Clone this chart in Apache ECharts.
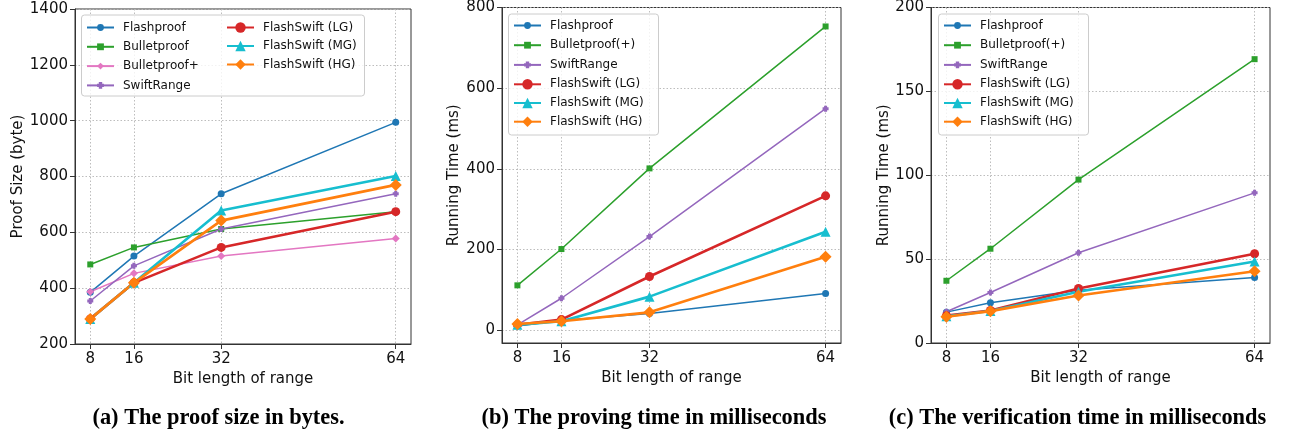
<!DOCTYPE html>
<html><head><meta charset="utf-8">
<script src="https://cdn.jsdelivr.net/npm/echarts@6/dist/echarts.min.js"></script>
<style>html,body{margin:0;padding:0;background:#fff}#c{width:1289px;height:435px}</style>
</head><body><div id="c"></div>
<script>
// ---- data ----
const bits = [8, 16, 32, 64];
const xTicks = [8, 16, 32, 64];
// (a) proof size (byte)
const sizeFlashproof = [385, 515, 738, 994];
const sizeBulletproof = [485, 546, 612, 674];
const sizeBulletproofPlus = [387, 453, 515, 578];
const sizeSwiftRange = [354, 480, 612, 738];
const sizeLG = [290, 419, 546, 674];
const sizeMG = [290, 419, 678, 802];
const sizeHG = [290, 419, 642, 770];
// (b) proving time (ms)
const proveFlashproof = [10, 24, 41, 91];
const proveBulletproof = [111, 201, 401, 753];
const proveSwiftRange = [13, 79, 232, 549];
const proveLG = [13, 26, 133, 333];
const proveMG = [13, 22, 83, 244];
const proveHG = [15, 22, 44, 182];
// (c) verification time (ms)
const verFlashproof = [18.4, 24, 31.5, 39];
const verBulletproof = [37.1, 56.2, 97.4, 169.2];
const verSwiftRange = [18.6, 30.1, 53.8, 89.5];
const verLG = [16.3, 19.4, 32.5, 53.2];
const verMG = [15.9, 19.1, 30.6, 48.6];
const verHG = [15.6, 19.0, 28.3, 42.8];
// tick labels
const yTicksA = [200, 400, 600, 800, 1000, 1200, 1400];
const yTicksB = [0, 200, 400, 600, 800];
const yTicksC = [0, 50, 100, 150, 200];
const captions = ['(a) The proof size in bytes.', '(b) The proving time in milliseconds', '(c) The verification time in milliseconds'];
const yNames = ['Proof Size (byte)', 'Running Time (ms)', 'Running Time (ms)'];
const xName = 'Bit length of range';

// ---- styles ----
const FONT = 'DejaVu Sans';
const TXT = '#111';
const SPINE = '#333';
const plusPath = 'path://M2,0 H6 V2 H8 V6 H6 V8 H2 V6 H0 V2 H2 Z';
const styles = {
  'Flashproof':       {color: '#1f77b4', symbol: 'circle', size: 7, lw: 1.5},
  'Bulletproof':      {color: '#2ca02c', symbol: 'rect', size: 6, lw: 1.5},
  'Bulletproof(+)':   {color: '#2ca02c', symbol: 'rect', size: 6, lw: 1.5},
  'Bulletproof+':     {color: '#e377c2', symbol: 'diamond', size: 8, lw: 1.5},
  'SwiftRange':       {color: '#9467bd', symbol: plusPath, size: 6, lw: 1.5},
  'FlashSwift (LG)':  {color: '#d62728', symbol: 'circle', size: 9, lw: 2.6},
  'FlashSwift (MG)':  {color: '#17becf', symbol: 'triangle', size: 10, lw: 2.6},
  'FlashSwift (HG)':  {color: '#ff7f0e', symbol: 'diamond', size: 12, lw: 2.6}
};

const grids = [
  {left: 75, top: 9, width: 336, height: 335},
  {left: 502, top: 7, width: 339, height: 336},
  {left: 931, top: 7, width: 339, height: 336}
];
const yCfg = [
  {min: 200, max: 1400, ticks: yTicksA, nameGap: 48},
  {min: -32, max: 800, ticks: yTicksB, nameGap: 40},
  {min: 0, max: 200, ticks: yTicksC, nameGap: 39}
];

const chartSeries = [
  [['Flashproof', sizeFlashproof], ['Bulletproof', sizeBulletproof], ['Bulletproof+', sizeBulletproofPlus], ['SwiftRange', sizeSwiftRange],
   ['FlashSwift (LG)', sizeLG], ['FlashSwift (MG)', sizeMG], ['FlashSwift (HG)', sizeHG]],
  [['Flashproof', proveFlashproof], ['Bulletproof(+)', proveBulletproof], ['SwiftRange', proveSwiftRange],
   ['FlashSwift (LG)', proveLG], ['FlashSwift (MG)', proveMG], ['FlashSwift (HG)', proveHG]],
  [['Flashproof', verFlashproof], ['Bulletproof(+)', verBulletproof], ['SwiftRange', verSwiftRange],
   ['FlashSwift (LG)', verLG], ['FlashSwift (MG)', verMG], ['FlashSwift (HG)', verHG]]
];

const gridLine = {show: true, lineStyle: {color: '#b5b5b5', type: [1.5, 2], width: 0.9}};
const plain = v => String(v);
const xAxes = grids.map((g, i) => ({
  type: 'value', gridIndex: i, min: 5.2, max: 66.8,
  name: xName, nameLocation: 'middle', nameGap: 25,
  nameTextStyle: {fontFamily: FONT, fontSize: 15, color: TXT},
  axisLine: {show: true, onZero: false, lineStyle: {color: SPINE, width: 1}},
  axisTick: {show: true, length: 5, customValues: xTicks, lineStyle: {color: SPINE}},
  axisLabel: {customValues: xTicks, formatter: plain, fontFamily: FONT, fontSize: 15, color: TXT, margin: 8},
  splitLine: gridLine
}));
const yAxes = grids.map((g, i) => ({
  type: 'value', gridIndex: i, min: yCfg[i].min, max: yCfg[i].max,
  name: yNames[i], nameLocation: 'middle', nameGap: yCfg[i].nameGap,
  nameTextStyle: {fontFamily: FONT, fontSize: 15, color: TXT},
  axisLine: {show: true, onZero: false, lineStyle: {color: SPINE, width: 1}},
  axisTick: {show: true, length: 5, customValues: yCfg[i].ticks, lineStyle: {color: SPINE}},
  axisLabel: {customValues: yCfg[i].ticks, formatter: plain, fontFamily: FONT, fontSize: 15, color: TXT, margin: 7},
  splitLine: gridLine
}));

const series = [];
chartSeries.forEach((list, gi) => {
  list.forEach(([name, vals]) => {
    const s = styles[name];
    series.push({
      type: 'line', name: name, xAxisIndex: gi, yAxisIndex: gi,
      data: bits.map((b, k) => [b, vals[k]]),
      symbol: s.symbol, symbolSize: s.size, showSymbol: true, showAllSymbol: true,
      itemStyle: {color: s.color},
      lineStyle: {color: s.color, width: s.lw},
      emphasis: {disabled: true}, animation: false
    });
  });
});

function legend(names, left, top, ih, gap) {
  return {
    data: names, orient: 'vertical', left: left, top: top,
    itemWidth: 27, itemHeight: ih, itemGap: gap, padding: 0,
    selectedMode: false, z: 10,
    textStyle: {fontFamily: FONT, fontSize: 12, color: TXT, padding: [0, 0, 0, 4]}
  };
}
const legends = [
  legend(['Flashproof', 'Bulletproof', 'Bulletproof+', 'SwiftRange'], 86, 21.5, 8.5, 7.3),
  legend(['FlashSwift (LG)', 'FlashSwift (MG)', 'FlashSwift (HG)'], 226, 21.5, 13, 6.5),
  legend(['Flashproof', 'Bulletproof(+)', 'SwiftRange'], 513, 19.5, 8.5, 7.7),
  legend(['FlashSwift (LG)', 'FlashSwift (MG)', 'FlashSwift (HG)'], 513, 78.3, 13, 6.7),
  legend(['Flashproof', 'Bulletproof(+)', 'SwiftRange'], 943, 19.5, 8.5, 7.7),
  legend(['FlashSwift (LG)', 'FlashSwift (MG)', 'FlashSwift (HG)'], 943, 78.3, 13, 6.7)
];

const boxes = [[81.5, 15, 283, 81], [508.5, 14, 150, 121], [938.5, 14, 150, 121]];
const graphic = boxes.map(b => ({
  type: 'rect', z: 5, silent: true,
  shape: {x: b[0], y: b[1], width: b[2], height: b[3], r: 3},
  style: {fill: 'rgba(255,255,255,0.8)', stroke: '#cccccc', lineWidth: 1}
}));
const capX = [218.5, 654, 1077.5];
captions.forEach((t, i) => {
  graphic.push({
    type: 'text', x: capX[i], y: 418, silent: true,
    style: {text: t, fill: '#000', align: 'center', verticalAlign: 'middle',
      font: 'bold 22.4px "Liberation Serif", serif'}
  });
});

const chart = echarts.init(document.getElementById('c'), null, {renderer: 'canvas'});
chart.setOption({
  animation: false,
  backgroundColor: '#fff',
  grid: grids.map(g => Object.assign({show: true, borderColor: SPINE, borderWidth: 1, backgroundColor: 'transparent'}, g)),
  xAxis: xAxes, yAxis: yAxes,
  legend: legends,
  series: series,
  graphic: graphic
});
</script></body></html>
